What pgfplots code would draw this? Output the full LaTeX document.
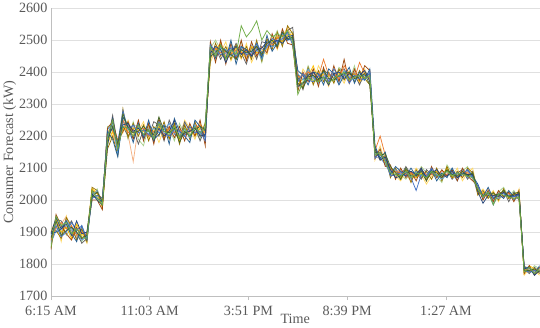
\documentclass[border=0pt]{standalone}
\usepackage{fontspec}
\setmainfont{Liberation Serif}
\usepackage{pgfplots}
\usepackage{pgfplotstable}
\pgfplotsset{compat=1.18}
\definecolor{txt}{HTML}{595959}
\definecolor{c1}{HTML}{70AD47}
\definecolor{c2}{HTML}{ED7D31}
\definecolor{c3}{HTML}{A5A5A5}
\definecolor{c4}{HTML}{FFC000}
\definecolor{c5}{HTML}{5B9BD5}
\definecolor{c6}{HTML}{4472C4}
\definecolor{c7}{HTML}{264478}
\definecolor{c8}{HTML}{F4B183}
\definecolor{c9}{HTML}{43682B}
\definecolor{c10}{HTML}{9DC3E6}
\definecolor{c11}{HTML}{997300}
\definecolor{c12}{HTML}{9E480E}
\definecolor{c13}{HTML}{636363}
\definecolor{c14}{HTML}{255E91}
\definecolor{c15}{HTML}{FFD966}
\definecolor{c16}{HTML}{A9D18E}
\pgfplotstableread{
h s1 s2 s3 s4 s5 s6 s7 s8 s9 s10 s11 s12 s13 s14 s15 s16
6.25 1850 1875 1890 1900 1865 1885 1895 1870 1880 1860 1900 1845 1870 1895 1860 1910
6.50 1950 1915 1930 1940 1905 1920 1945 1910 1935 1925 1905 1955 1940 1900 1930 1915
6.75 1920 1930 1895 1900 1915 1885 1910 1925 1890 1905 1880 1920 1935 1910 1870 1925
7.00 1930 1910 1945 1915 1935 1900 1925 1950 1905 1920 1945 1895 1910 1935 1950 1890
7.25 1895 1920 1905 1880 1910 1930 1890 1900 1915 1885 1920 1875 1935 1895 1890 1915
7.50 1910 1890 1880 1925 1895 1905 1935 1885 1900 1910 1875 1915 1900 1870 1925 1890
7.75 1885 1900 1910 1890 1875 1920 1895 1905 1880 1895 1910 1880 1865 1920 1900 1870
8.00 1880 1890 1875 1895 1885 1880 1900 1870 1890 1885 1870 1895 1880 1875 1865 1900
8.25 2030 2010 2025 2035 2015 2005 2020 2030 2010 2025 2040 2000 2030 2015 2035 2005
8.50 2005 2025 2010 2020 2030 2015 2000 2020 2025 2010 2030 2000 2020 2005 2025 2035
8.75 1985 2000 1995 1980 1990 2005 1985 1975 1995 2000 1980 1970 2005 1995 1975 1985
9.00 2195 2215 2210 2180 2220 2200 2170 2210 2190 2205 2160 2225 2185 2215 2175 2230
9.25 2250 2220 2235 2215 2240 2225 2255 2210 2230 2220 2200 2245 2265 2190 2210 2235
9.50 2160 2175 2150 2170 2145 2180 2160 2155 2175 2165 2140 2185 2170 2135 2190 2150
9.75 2230 2250 2260 2225 2245 2280 2235 2250 2270 2240 2285 2215 2230 2260 2210 2255
10.00 2225 2210 2235 2215 2230 2220 2240 2205 2225 2215 2195 2245 2200 2230 2250 2190
10.25 2200 2220 2210 2225 2195 2235 2215 2120 2210 2230 2240 2190 2225 2180 2205 2245
10.50 2235 2215 2230 2220 2240 2210 2225 2230 2215 2235 2200 2250 2175 2240 2215 2190
10.75 2205 2225 2200 2215 2195 2220 2205 2215 2230 2200 2235 2185 2220 2195 2245 2170
11.00 2220 2200 2225 2235 2210 2205 2220 2195 2215 2225 2185 2240 2200 2250 2190 2230
11.25 2190 2215 2210 2200 2225 2195 2185 2210 2205 2215 2230 2175 2245 2190 2220 2195
11.50 2240 2220 2215 2230 2210 2245 2225 2235 2260 2220 2200 2255 2235 2205 2180 2240
11.75 2215 2205 2230 2195 2220 2210 2200 2225 2215 2190 2245 2190 2185 2235 2225 2200
12.00 2205 2225 2210 2220 2240 2200 2215 2195 2210 2230 2190 2230 2250 2175 2200 2225
12.25 2230 2210 2225 2235 2205 2220 2250 2215 2225 2210 2240 2195 2210 2255 2235 2185
12.50 2195 2220 2200 2185 2210 2215 2195 2205 2180 2215 2175 2230 2190 2215 2195 2240
12.75 2225 2205 2235 2215 2220 2200 2210 2230 2215 2240 2235 2185 2245 2200 2250 2205
13.00 2200 2215 2205 2225 2195 2230 2215 2210 2200 2220 2190 2240 2215 2180 2225 2235
13.25 2230 2225 2215 2200 2235 2210 2225 2240 2220 2205 2245 2200 2230 2250 2190 2215
13.50 2210 2235 2220 2225 2205 2215 2200 2220 2230 2215 2200 2250 2185 2230 2240 2190
13.75 2225 2200 2215 2210 2230 2185 2205 2215 2220 2195 2240 2170 2225 2195 2215 2245
14.00 2480 2465 2490 2455 2470 2485 2460 2475 2450 2470 2440 2495 2460 2485 2430 2475
14.25 2450 2475 2455 2470 2440 2465 2480 2445 2460 2455 2490 2430 2475 2445 2470 2500
14.50 2485 2460 2470 2490 2475 2455 2470 2495 2480 2465 2450 2500 2440 2485 2460 2470
14.75 2440 2465 2450 2445 2470 2460 2430 2455 2465 2450 2480 2425 2470 2440 2495 2445
15.00 2470 2455 2480 2460 2450 2475 2465 2470 2455 2490 2440 2490 2455 2500 2435 2470
15.25 2455 2470 2445 2475 2465 2450 2480 2460 2440 2465 2485 2440 2490 2425 2470 2455
15.50 2545 2460 2475 2465 2480 2470 2455 2485 2470 2460 2445 2500 2460 2480 2440 2495
15.75 2510 2465 2450 2440 2460 2455 2470 2445 2460 2450 2480 2435 2425 2470 2490 2440
16.00 2530 2455 2470 2480 2465 2460 2450 2475 2465 2485 2440 2495 2480 2450 2430 2475
16.25 2560 2480 2465 2460 2475 2490 2470 2455 2480 2465 2500 2450 2440 2490 2465 2485
16.50 2500 2450 2470 2465 2440 2460 2475 2465 2455 2460 2435 2480 2495 2445 2470 2430
16.75 2530 2490 2475 2470 2485 2480 2495 2470 2490 2475 2505 2460 2490 2515 2455 2500
17.00 2510 2485 2500 2495 2480 2505 2490 2475 2500 2485 2470 2520 2480 2465 2510 2495
17.25 2520 2505 2490 2510 2485 2495 2500 2515 2480 2505 2525 2475 2510 2490 2470 2530
17.50 2510 2515 2500 2495 2520 2505 2490 2510 2525 2500 2480 2535 2495 2525 2515 2485
17.75 2530 2505 2520 2515 2500 2525 2510 2540 2505 2515 2545 2490 2530 2500 2535 2520
18.00 2495 2510 2490 2520 2505 2485 2515 2500 2510 2495 2520 2485 2540 2510 2480 2525
18.25 2330 2385 2375 2360 2395 2370 2355 2380 2365 2390 2395 2340 2385 2405 2350 2380
18.50 2370 2390 2360 2380 2375 2395 2365 2385 2350 2375 2350 2400 2345 2390 2410 2360
18.75 2380 2400 2395 2385 2410 2375 2390 2405 2385 2395 2415 2370 2400 2360 2385 2420
19.00 2375 2395 2380 2420 2385 2370 2400 2380 2390 2385 2360 2410 2390 2400 2365 2380
19.25 2370 2385 2395 2375 2365 2390 2380 2400 2375 2370 2405 2355 2370 2395 2420 2365
19.50 2385 2440 2390 2395 2380 2400 2385 2375 2405 2390 2370 2415 2405 2360 2390 2410
19.75 2365 2390 2375 2385 2395 2370 2360 2390 2380 2385 2400 2360 2395 2410 2355 2390
20.00 2380 2395 2400 2385 2390 2410 2395 2380 2375 2400 2365 2420 2380 2395 2410 2370
20.25 2390 2380 2375 2395 2370 2385 2400 2385 2390 2365 2410 2370 2405 2360 2395 2415
20.50 2400 2420 2390 2385 2405 2395 2380 2410 2395 2390 2375 2440 2410 2390 2365 2400
20.75 2375 2395 2380 2390 2385 2365 2395 2375 2400 2385 2400 2365 2380 2415 2405 2370
21.00 2385 2380 2400 2395 2375 2390 2385 2405 2380 2395 2370 2410 2395 2365 2380 2420
21.25 2390 2430 2375 2370 2385 2380 2390 2365 2385 2375 2405 2375 2360 2400 2390 2365
21.50 2380 2395 2385 2400 2390 2375 2405 2390 2395 2385 2380 2420 2400 2375 2410 2385
21.75 2390 2380 2395 2375 2385 2400 2370 2390 2360 2395 2360 2405 2390 2410 2370 2380
22.00 2140 2155 2135 2150 2145 2130 2160 2140 2150 2135 2165 2130 2150 2170 2125 2155
22.25 2150 2200 2130 2145 2135 2150 2125 2145 2140 2160 2125 2160 2145 2130 2170 2135
22.50 2120 2140 2115 2130 2110 2125 2135 2115 2145 2120 2140 2105 2130 2150 2115 2135
22.75 2085 2095 2080 2100 2090 2075 2095 2085 2105 2090 2070 2110 2095 2080 2100 2085
23.00 2080 2090 2075 2085 2095 2080 2070 2090 2085 2080 2100 2065 2090 2105 2075 2095
23.25 2075 2085 2090 2070 2080 2085 2075 2095 2065 2085 2065 2100 2075 2090 2060 2080
23.50 2090 2080 2085 2095 2075 2090 2085 2080 2100 2075 2095 2070 2105 2075 2090 2065
23.75 2070 2085 2065 2080 2075 2070 2090 2060 2075 2080 2055 2090 2080 2100 2070 2085
24.00 2085 2075 2080 2070 2090 2030 2080 2085 2075 2090 2095 2060 2085 2075 2100 2070
24.25 2080 2095 2090 2085 2075 2080 2100 2085 2090 2075 2070 2100 2065 2095 2080 2105
24.50 2070 2080 2075 2065 2085 2075 2070 2080 2060 2080 2090 2060 2095 2070 2050 2085
24.75 2090 2080 2095 2085 2080 2100 2085 2075 2090 2085 2065 2105 2080 2095 2075 2090
25.00 2075 2085 2070 2090 2080 2075 2095 2080 2085 2070 2100 2070 2090 2060 2095 2075
25.25 2080 2070 2085 2075 2065 2080 2075 2090 2070 2080 2060 2095 2070 2085 2080 2055
25.50 2090 2080 2085 2100 2080 2090 2075 2085 2095 2080 2105 2075 2095 2070 2090 2110
25.75 2075 2090 2080 2070 2085 2080 2090 2075 2080 2100 2070 2095 2065 2100 2075 2085
26.00 2085 2070 2080 2075 2060 2085 2070 2080 2075 2070 2090 2060 2085 2070 2100 2080
26.25 2080 2090 2075 2085 2095 2080 2085 2070 2090 2080 2070 2100 2095 2080 2060 2090
26.50 2075 2085 2090 2080 2070 2095 2080 2085 2075 2085 2100 2075 2065 2095 2085 2105
26.75 2070 2080 2065 2085 2075 2070 2080 2075 2085 2070 2085 2060 2090 2075 2100 2065
27.00 2035 2025 2040 2020 2030 2045 2025 2035 2030 2020 2015 2045 2025 2050 2020 2040
27.25 2010 2020 2005 2025 2015 2010 1990 2020 2015 2025 2030 2000 2020 2010 2035 2005
27.50 2025 2015 2030 2010 2020 2025 2015 2035 2020 2010 2005 2030 2015 2040 2010 2025
27.75 1985 2015 2000 2020 2010 1985 2015 2005 2020 2010 2025 1995 2015 2005 2030 1990
28.00 2020 2010 2025 2015 2005 2020 2010 2025 2015 2020 2000 2030 2010 2020 1995 2025
28.25 2015 2025 2020 2030 2015 2020 2025 2010 2030 2015 2035 2010 2030 2005 2025 2040
28.50 2010 2020 2015 2005 2025 2015 2010 2020 2010 2025 2005 2025 1995 2030 2020 2010
28.75 2005 2015 2010 2020 2000 2010 2015 2005 2020 2010 2020 1995 2025 2010 2000 2030
29.00 2010 2020 2015 2025 2010 2015 2020 2010 2025 2015 2000 2030 2010 2020 2035 2005
29.25 1775 1785 1780 1770 1790 1780 1785 1775 1780 1790 1795 1770 1785 1790 1765 1780
29.50 1790 1780 1785 1795 1780 1775 1790 1785 1780 1785 1775 1795 1770 1790 1785 1775
29.75 1770 1780 1775 1785 1770 1780 1765 1775 1785 1770 1785 1765 1790 1770 1780 1795
30.00 1785 1775 1790 1780 1785 1775 1780 1790 1775 1780 1770 1790 1775 1795 1765 1785
}\data
\begin{document}
\begin{tikzpicture}
\begin{axis}[
  scale only axis, width=482bp, height=284bp,
  xmin=6.25, xmax=30, ymin=1700, ymax=2600,
  xtick={6.25,11.05,15.85,20.65,25.45},
  xticklabels={6:15 AM,11:03 AM,3:51 PM,8:39 PM,1:27 AM},
  ytick={1700,1800,...,2600},
  ymajorgrids, grid style={draw=black!12, line width=0.8pt},
  axis x line*=bottom, axis y line*=left,
  axis line style={draw=black!25, line width=0.8pt, -},
  xtick align=outside, major tick length=4bp,
  xtick style={draw=black!25, line width=0.8pt},
  ytick style={draw=none},
  /pgf/number format/assume math mode=true,
  /pgf/number format/1000 sep={},
  tick label style={font=\fontsize{14}{16}\selectfont, text=txt},
  xticklabel style={yshift=-2bp},
  label style={font=\fontsize{14}{16}\selectfont, text=txt},
  xlabel={Time}, ylabel={Consumer Forecast (kW)},
  xlabel style={yshift=8bp},
  ylabel style={yshift=-4bp},
  every axis plot/.append style={line width=0.75pt, mark=none},
]
\addplot[c10] table[x=h,y=s10] {\data};
\addplot[c16] table[x=h,y=s16] {\data};
\addplot[c8] table[x=h,y=s8] {\data};
\addplot[c15] table[x=h,y=s15] {\data};
\addplot[c3] table[x=h,y=s3] {\data};
\addplot[c13] table[x=h,y=s13] {\data};
\addplot[c4] table[x=h,y=s4] {\data};
\addplot[c11] table[x=h,y=s11] {\data};
\addplot[c5] table[x=h,y=s5] {\data};
\addplot[c12] table[x=h,y=s12] {\data};
\addplot[c2] table[x=h,y=s2] {\data};
\addplot[c14] table[x=h,y=s14] {\data};
\addplot[c6] table[x=h,y=s6] {\data};
\addplot[c7] table[x=h,y=s7] {\data};
\addplot[c9] table[x=h,y=s9] {\data};
\addplot[c1] table[x=h,y=s1] {\data};
\end{axis}
\end{tikzpicture}
\end{document}
